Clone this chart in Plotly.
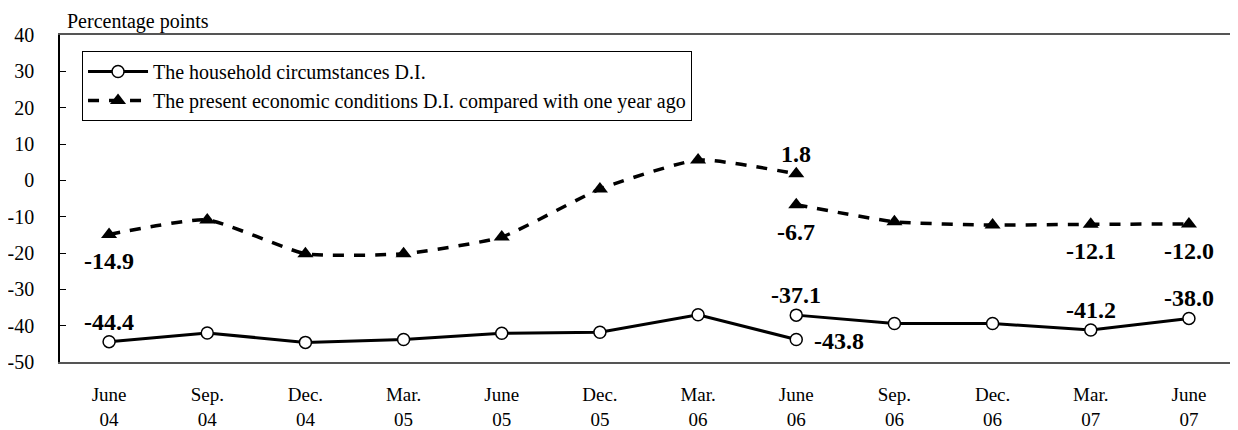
import plotly.graph_objects as go

# Survey periods (x categories)
categories = ['June<br>04', 'Sep.<br>04', 'Dec.<br>04', 'Mar.<br>05', 'June<br>05', 'Dec.<br>05',
              'Mar.<br>06', 'June<br>06', 'Sep.<br>06', 'Dec.<br>06', 'Mar.<br>07', 'June<br>07']

# Series break at June 06: old survey up to June 06, new survey from June 06
cat_old = categories[:8]
cat_new = categories[7:]

household_old = [-44.4, -42.0, -44.6, -43.8, -42.1, -41.8, -37.0, -43.8]
household_new = [-37.1, -39.4, -39.4, -41.2, -38.0]
economy_old = [-14.9, -10.9, -20.2, -20.2, -15.6, -2.4, 5.6, 1.8]
economy_new = [-6.7, -11.4, -12.3, -12.1, -12.0]

y_ticks = [40, 30, 20, 10, 0, -10, -20, -30, -40, -50]
y_tick_text = ['40', '30', '20', '10', '0', '-10', '-20', '-30', '-40', '-50']

# Labelled points: (category, value)
labels_above = [(cat_old[0], household_old[0]), (cat_new[0], household_new[0]),
                (cat_new[3], household_new[3]), (cat_new[4], household_new[4]),
                (cat_old[7], economy_old[7])]
labels_below = [(cat_old[0], economy_old[0]), (cat_new[0], economy_new[0]),
                (cat_new[3], economy_new[3]), (cat_new[4], economy_new[4])]
labels_right = [(cat_old[7], household_old[7])]

FONT = '"Times New Roman", "Liberation Serif", serif'
AXIS_GRAY = '#555555'

fig = go.Figure()

household_style = dict(
    mode='lines+markers',
    line=dict(color='black', width=3),
    marker=dict(symbol='circle', size=12, color='white', line=dict(color='black', width=1.5)),
)
economy_style = dict(
    mode='lines+markers',
    line=dict(color='black', width=3.5, dash='11px,10px', shape='spline', smoothing=0.5),
    marker=dict(symbol='triangle-up', size=14, color='black'),
)

fig.add_trace(go.Scatter(x=cat_old, y=household_old, name='The household circumstances D.I.',
                         showlegend=True, **household_style))
fig.add_trace(go.Scatter(x=cat_new, y=household_new, name='household new',
                         showlegend=False, **household_style))
fig.add_trace(go.Scatter(x=cat_old, y=economy_old,
                         name='The present economic conditions D.I. compared with one year ago',
                         showlegend=True, **economy_style))
fig.add_trace(go.Scatter(x=cat_new, y=economy_new, name='economy new',
                         showlegend=False, **economy_style))

label_font = dict(family=FONT, size=24, color='black')
for cat, val in labels_above:
    fig.add_annotation(x=cat, y=val, text=f'<b>{val:.1f}</b>', showarrow=False,
                       font=label_font, yshift=20)
for cat, val in labels_below:
    fig.add_annotation(x=cat, y=val, text=f'<b>{val:.1f}</b>', showarrow=False,
                       font=label_font, yshift=-27)
for cat, val in labels_right:
    fig.add_annotation(x=cat, y=val, text=f'<b>{val:.1f}</b>', showarrow=False,
                       font=label_font, xanchor='left', xshift=16, yshift=-2)

fig.add_annotation(text='Percentage points', xref='paper', yref='paper', x=0, y=1,
                   xanchor='left', yanchor='bottom', xshift=5, yshift=0, showarrow=False,
                   font=dict(family=FONT, size=20, color='black'))

# Horizontal axis line at zero with tick marks crossing it at category boundaries
zero_pos = (0 - (-50)) / 90
zero_axis = dict(
    overlaying='x', anchor='free', position=zero_pos, range=[-0.5, 11.5],
    tick0=-0.5, dtick=1, showticklabels=False, showgrid=False, zeroline=False,
    showline=True, linecolor=AXIS_GRAY, linewidth=1.5,
    ticklen=7, tickcolor=AXIS_GRAY, tickwidth=1.2,
)

# page body has an 8px margin, so the figure is shrunk by 8px to fill the 1238x430 window
fig.update_layout(
    width=1230, height=422,
    margin=dict(l=52, r=0, t=27, b=63),
    plot_bgcolor='white', paper_bgcolor='white',
    font=dict(family=FONT, size=19, color='black'),
    xaxis=dict(
        type='category', categoryorder='array', categoryarray=categories,
        range=[-0.5, 11.5], showgrid=False, zeroline=False,
        showline=True, linecolor=AXIS_GRAY, linewidth=2, mirror=True,
        ticks='', tickfont=dict(family=FONT, size=19), ticklabelstandoff=14,
    ),
    xaxis2=dict(ticks='outside', **zero_axis),
    xaxis3=dict(ticks='inside', **zero_axis),
    yaxis=dict(
        range=[-50, 40], tickvals=y_ticks, ticktext=y_tick_text,
        showgrid=False, zeroline=False,
        showline=True, linecolor='black', linewidth=1.5,
        ticks='inside', ticklen=6, tickcolor='black',
        tickfont=dict(family=FONT, size=20), ticklabelstandoff=20,
    ),
    legend=dict(
        x=0.0187, y=0.951, xanchor='left', yanchor='top',
        bordercolor='black', borderwidth=1, bgcolor='white',
        font=dict(family=FONT, size=20), itemwidth=60,
        tracegroupgap=0,
    ),
    showlegend=True,
)

fig.write_html('out.html')
